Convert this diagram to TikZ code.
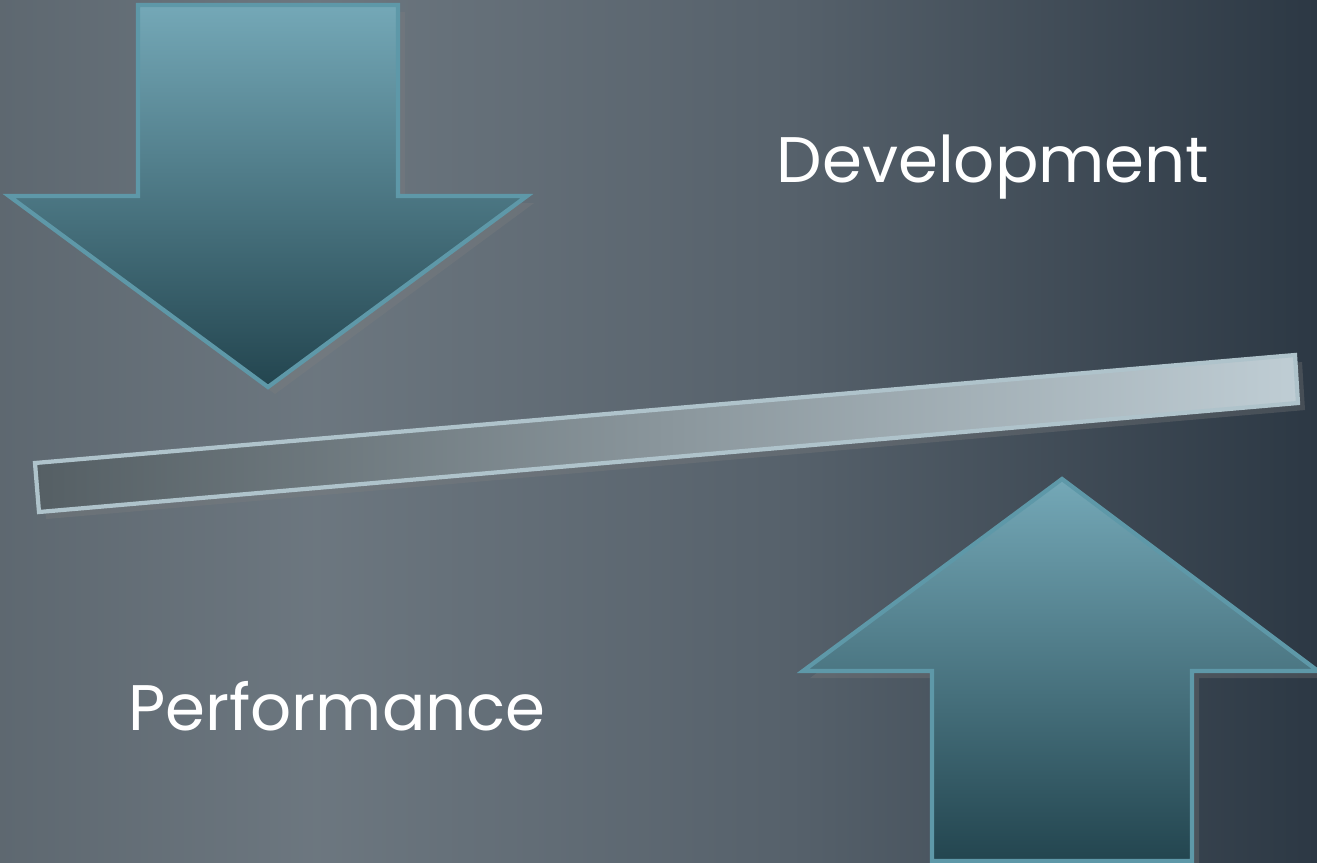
\documentclass[tikz,border=0pt]{standalone}
\usepackage{fontspec}
\setmainfont{Poppins}
\usepackage{tikz}
\usetikzlibrary{positioning,shadows}

\definecolor{bgLeft}{HTML}{66717A}
\definecolor{bgMid}{HTML}{56616B}
\definecolor{bgRight}{HTML}{2C3844}
\definecolor{arrTop}{HTML}{74A8B7}
\definecolor{arrBot}{HTML}{23454F}
\definecolor{arrLine}{HTML}{5E98A8}
\definecolor{beamLeft}{HTML}{555F64}
\definecolor{beamRight}{HTML}{BFCDD4}
\definecolor{beamLine}{HTML}{AFC3CB}

% stops between 25bp and 75bp cover the shaded path
\pgfdeclarehorizontalshading{backdrop}{100bp}{
	color(0bp)=(bgLeft); color(25bp)=(bgLeft!92!black); color(37bp)=(bgLeft!96!white);
	color(55bp)=(bgMid); color(75bp)=(bgRight); color(100bp)=(bgRight)}

\begin{document}
\begin{tikzpicture}[
	x=0.01cm, y=-0.01cm,
	bigarrow/.style={
		draw=arrLine,
		line width=1.2pt,
		line join=miter,
		drop shadow={opacity=0.3, shadow xshift=2pt, shadow yshift=-2pt}
	},
	downarrow/.style={
		bigarrow,
		top color=arrTop, bottom color=arrBot
	},
	uparrow/.style={
		bigarrow,
		top color=arrTop, bottom color=arrBot
	},
	beam/.style={
		draw=beamLine,
		line width=1.2pt,
		left color=beamLeft, right color=beamRight,
		drop shadow={opacity=0.3, shadow xshift=2pt, shadow yshift=-2pt}
	},
	word/.style={
		text=white,
		font=\fontsize{18.3}{22}\selectfont,
		inner sep=0pt,
		anchor=base
	}
	]
	% backdrop
	\shade[shading=backdrop] (0,0) rectangle (1317,863);
	\useasboundingbox (0,0) rectangle (1317,863);
	
	% pushing down from above
	\path[downarrow] (138,5) -- (398,5) -- (398,196) -- (527,196)
		-- (268,387) -- (9,196) -- (138,196) -- cycle;
	
	% the tilted bar
	\path[beam] (35,463) -- (1295,355) -- (1298,403) -- (39,512) -- cycle;
	
	% pushing up from below
	\path[uparrow] (932,861) -- (932,671) -- (803,671) -- (1062,479)
		-- (1318,671) -- (1192,671) -- (1192,861) -- cycle;
	
	\node[word] (dev) at (993,182) {Development};
	\node[word] (perf) at (337,730) {Performance};
\end{tikzpicture}
\end{document}
